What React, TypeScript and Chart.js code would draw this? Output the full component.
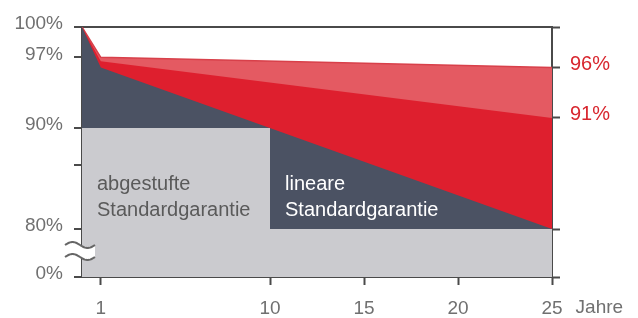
import React, { useEffect, useRef } from 'react';
import { Chart, registerables } from 'chart.js';

Chart.register(...registerables);

// ---- data ----
const curveYears = [0, 1, 25];
const topValues = [100, 97, 96];        // light red upper bound
const midValues = [100, 96.6, 91];      // bright red upper bound
const linearValues = [100, 96, 80];     // lineare Standardgarantie
const stepYears = [0, 10, 25];
const stepValues = [90, 80, 80];        // abgestufte Standardgarantie

const leftTicks = [75.25, 80, 86.3, 90, 97, 100];
const leftTickLabels = ['0%', '80%', '', '90%', '97%', '100%'];
const rightTicks = [75.25, 80, 91, 96, 100];
const rightTickLabels = ['', '', '91%', '96%', ''];
const xTicks = [1, 10, 15, 20, 25];
const xTickLabels = ['1', '10', '15', '20', '25'];
const unitLabel = 'Jahre';
const stepLabel = ['abgestufte', 'Standardgarantie'];
const linearLabel = ['lineare', 'Standardgarantie'];

const FONT = "'Liberation Sans', Arial, sans-serif";
const AXIS = '#4a4a4a';
const GREY_TXT = '#707070';

const toPts = (xs: number[], ys: number[]) => xs.map((x, i) => ({ x, y: ys[i] }));

const overlay = {
  id: 'overlay',
  afterDatasetsDraw(chart: any) {
    const { ctx, chartArea, scales } = chart;
    const xs = scales.x;
    ctx.save();
    ctx.font = `20px ${FONT}`;
    ctx.textBaseline = 'middle';
    ctx.textAlign = 'left';
    // abgestufte
    ctx.fillStyle = '#5a5a5a';
    ctx.fillText(stepLabel[0], chartArea.left + 15, 184);
    ctx.fillText(stepLabel[1], chartArea.left + 15, 210);
    // lineare
    const stepX = xs.getPixelForValue(stepYears[1]);
    ctx.fillStyle = '#ffffff';
    ctx.fillText(linearLabel[0], stepX + 15, 184);
    ctx.fillText(linearLabel[1], stepX + 15, 210);
    ctx.restore();
  },
  afterDraw(chart: any) {
    const { ctx, chartArea, scales } = chart;
    const xs = scales.x;
    ctx.save();
    // unit label after last x tick
    ctx.font = `19px ${FONT}`;
    ctx.fillStyle = GREY_TXT;
    ctx.textBaseline = 'middle';
    ctx.textAlign = 'left';
    const px = xs.getPixelForValue(25);
    const w25 = ctx.measureText('25').width;
    ctx.fillText(unitLabel, px + w25 / 2 + 13, 308);
    // axis break symbol
    const x0 = chartArea.left - 17;
    const x1 = chartArea.left + 13;
    const ya = 245;
    const yb = 257;
    const wave = (yc: number, t: number) => yc - 3 * Math.sin(2 * Math.PI * t);
    ctx.beginPath();
    for (let i = 0; i <= 30; i++) {
      const t = i / 30;
      const x = x0 + (x1 - x0) * t;
      if (i === 0) ctx.moveTo(x, wave(ya, t));
      else ctx.lineTo(x, wave(ya, t));
    }
    for (let i = 30; i >= 0; i--) {
      const t = i / 30;
      ctx.lineTo(x0 + (x1 - x0) * t, wave(yb, t));
    }
    ctx.closePath();
    ctx.fillStyle = '#ffffff';
    ctx.fill();
    ctx.strokeStyle = '#666';
    ctx.lineWidth = 2;
    [ya, yb].forEach((yc) => {
      ctx.beginPath();
      for (let i = 0; i <= 30; i++) {
        const t = i / 30;
        const x = x0 + (x1 - x0) * t;
        if (i === 0) ctx.moveTo(x, wave(yc, t));
        else ctx.lineTo(x, wave(yc, t));
      }
      ctx.stroke();
    });
    ctx.restore();
  },
};

export default function App() {
  const ref = useRef<HTMLCanvasElement | null>(null);
  useEffect(() => {
    if (!ref.current) return;
    const chart = new Chart(ref.current, {
      type: 'line',
      data: {
        datasets: [
          {
            label: 'abgestufte Standardgarantie',
            data: toPts(stepYears, stepValues),
            stepped: 'before',
            fill: 'start',
            backgroundColor: '#cbcbcf',
            borderWidth: 0,
            pointRadius: 0,
          },
          {
            label: 'lineare Standardgarantie',
            data: toPts(curveYears, linearValues),
            fill: 'start',
            backgroundColor: '#4b5263',
            borderWidth: 0,
            pointRadius: 0,
          },
          {
            label: '91%',
            data: toPts(curveYears, midValues),
            fill: 'start',
            backgroundColor: '#de1f2e',
            borderWidth: 0,
            pointRadius: 0,
          },
          {
            label: '96%',
            data: toPts(curveYears, topValues),
            fill: 'start',
            backgroundColor: '#e45a62',
            borderColor: '#d8404a',
            borderWidth: 1.5,
            pointRadius: 0,
          },
        ],
      },
      options: {
        responsive: false,
        animation: false,
        devicePixelRatio: 1,
        layout: { padding: { top: 27, left: 0, right: 0, bottom: 0 } },
        plugins: { legend: { display: false }, tooltip: { enabled: false } },
        scales: {
          x: {
            type: 'linear',
            min: 0,
            max: 25,
            afterBuildTicks: (s: any) => { s.ticks = xTicks.map((v) => ({ value: v })); },
            afterFit: (s: any) => { s.height = 41; },
            ticks: {
              font: { size: 19, family: FONT },
              color: GREY_TXT,
              padding: 12,
              callback: (v: any) => xTickLabels[xTicks.indexOf(Number(v))] ?? '',
            },
            grid: { drawOnChartArea: false, drawTicks: true, tickLength: 8, tickWidth: 2, tickColor: AXIS },
            border: { display: true, color: AXIS, width: 2 },
          },
          y: {
            type: 'linear',
            position: 'left',
            min: leftTicks[0],
            max: 100,
            afterBuildTicks: (s: any) => { s.ticks = leftTicks.map((v) => ({ value: v })); },
            afterFit: (s: any) => { s.width = 82; },
            ticks: {
              font: { size: 19, family: FONT },
              color: GREY_TXT,
              padding: 11,
              labelOffset: -3,
              callback: (v: any) => leftTickLabels[leftTicks.indexOf(Number(v))] ?? '',
            },
            grid: {
              drawOnChartArea: true,
              drawTicks: true,
              tickLength: 8,
              tickWidth: 2,
              lineWidth: 2,
              tickColor: AXIS,
              color: (c: any) => (c.tick && c.tick.value === 100 ? AXIS : 'rgba(0,0,0,0)'),
            },
            border: { display: true, color: AXIS, width: 2 },
          },
          y2: {
            type: 'linear',
            position: 'right',
            min: leftTicks[0],
            max: 100,
            afterBuildTicks: (s: any) => { s.ticks = rightTicks.map((v) => ({ value: v })); },
            afterFit: (s: any) => { s.width = 86; },
            ticks: {
              font: { size: 20, family: FONT },
              color: '#d8262e',
              padding: 10,
              labelOffset: -3,
              callback: (v: any) => rightTickLabels[rightTicks.indexOf(Number(v))] ?? '',
            },
            grid: { drawOnChartArea: false, drawTicks: true, tickLength: 8, tickWidth: 2, tickColor: AXIS },
            border: { display: true, color: AXIS, width: 2 },
          },
        },
      },
      plugins: [overlay],
    });
    return () => chart.destroy();
  }, []);
  return (
    <div style={{ position: 'fixed', left: 0, top: 0, width: 638, height: 318, background: '#fff' }}>
      <canvas ref={ref} width={638} height={318} style={{ width: 638, height: 318 }} />
    </div>
  );
}
